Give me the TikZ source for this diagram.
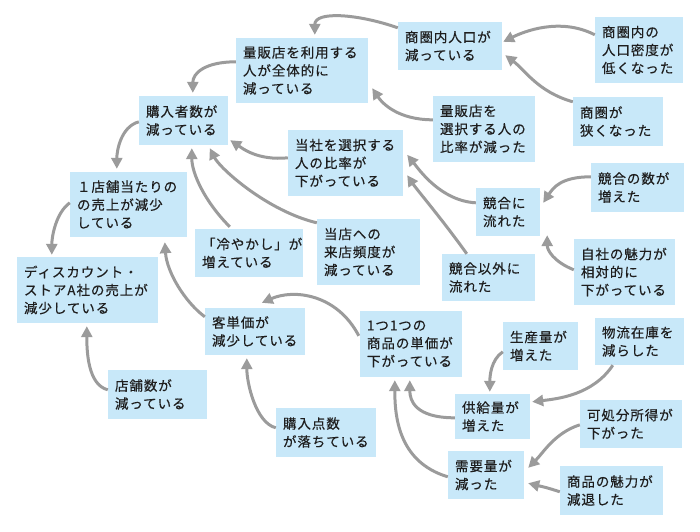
\documentclass[tikz,border=0pt]{standalone}
\usepackage{fontspec}
\newfontfamily\jp{Noto Sans CJK JP}[LetterSpace=7,FakeBold=0.35]
\usetikzlibrary{arrows.meta,calc}
\definecolor{boxfill}{HTML}{C8E8F9}
\definecolor{arrgray}{HTML}{9B9B9B}
\definecolor{txt}{HTML}{1E1E1E}
\tikzset{
 box/.style={fill=boxfill, inner xsep=7pt, inner ysep=0pt, align=left, text=txt,
   font=\jp\fontsize{13.5}{18}\selectfont},
 arr/.style={draw=arrgray, line width=3pt, -{Triangle[length=11pt,width=11pt]}}
}
\begin{document}
\begin{tikzpicture}[x=1pt,y=-1pt]
\path[use as bounding box] (0,0) rectangle (700,531);
% nodes
\node[box,minimum width=104pt,minimum height=48pt,text width=90pt] (pop) at (450,46) {商圏内人口が\\減っている};
\node[box,minimum width=88pt,minimum height=66pt,text width=74pt] (dens) at (639,50) {商圏内の\\人口密度が\\低くなった};
\node[box,minimum width=90pt,minimum height=49pt,text width=76pt] (narrow) at (618,121.5) {商圏が\\狭くなった};
\node[box,minimum width=102pt,minimum height=66pt,text width=88pt] (rsel) at (484,129) {量販店を\\選択する人の\\比率が減った};
\node[box,minimum width=132pt,minimum height=65pt,text width=118pt] (ruse) at (302,70.5) {量販店を利用する\\人が全体的に\\減っている};
\node[box,minimum width=89pt,minimum height=49pt,text width=75pt] (buyers) at (183.5,120.5) {購入者数が\\減っている};
\node[box,minimum width=115pt,minimum height=66pt,text width=101pt] (share) at (345.5,163) {当社を選択する\\人の比率が\\下がっている};
\node[box,minimum width=117pt,minimum height=65pt,text width=103pt] (perstore) at (128.5,204.5) {１店舗当たりの\\の売上が減少\\している};
\node[box,minimum width=141pt,minimum height=66pt,text width=127pt] (sales) at (87.5,290) {ディスカウント・\\ストアA社の売上が\\減少している};
\node[box,minimum width=108pt,minimum height=48pt,text width=94pt] (hiya) at (249,253) {「冷やかし」が\\増えている};
\node[box,minimum width=103pt,minimum height=66pt,text width=89pt] (freq) at (368.5,252) {当店への\\来店頻度が\\減っている};
\node[box,minimum width=64pt,minimum height=48pt,text width=50pt] (comp) at (508,212) {競合に\\流れた};
\node[box,minimum width=93pt,minimum height=49pt,text width=79pt] (compnum) at (637.5,187.5) {競合の数が\\増えた};
\node[box,minimum width=101pt,minimum height=66pt,text width=87pt] (attract) at (624.5,272) {自社の魅力が\\相対的に\\下がっている};
\node[box,minimum width=93pt,minimum height=47pt,text width=79pt] (other) at (488.5,277.5) {競合以外に\\流れた};
\node[box,minimum width=100pt,minimum height=47pt,text width=86pt] (unit) at (255,331.5) {客単価が\\減少している};
\node[box,minimum width=102pt,minimum height=66pt,text width=88pt] (item) at (411,344) {1つ1つの\\商品の単価が\\下がっている};
\node[box,minimum width=75pt,minimum height=48pt,text width=61pt] (prod) at (540.5,346) {生産量が\\増えた};
\node[box,minimum width=89pt,minimum height=47pt,text width=75pt] (logi) at (639.5,341.5) {物流在庫を\\減らした};
\node[box,minimum width=75pt,minimum height=45pt,text width=61pt] (supply) at (492.5,416.5) {供給量が\\増えた};
\node[box,minimum width=102pt,minimum height=48pt,text width=88pt] (income) at (631,424) {可処分所得が\\下がった};
\node[box,minimum width=76pt,minimum height=48pt,text width=62pt] (demand) at (486,475) {需要量が\\減った};
\node[box,minimum width=103pt,minimum height=49pt,text width=89pt] (charm) at (611.5,490.5) {商品の魅力が\\減退した};
\node[box,minimum width=99pt,minimum height=49pt,text width=85pt] (stores) at (157.5,394.5) {店舗数が\\減っている};
\node[box,minimum width=100pt,minimum height=49pt,text width=86pt] (points) at (326,432.5) {購入点数\\が落ちている};
% arrows
\draw[arr] ($(pop.north west)+(0,6)$) .. controls +(-40,-14) and +(0,-24) .. ($(ruse.north west)+(79,-3)$);
\draw[arr] ($(ruse.north west)+(0,24)$) .. controls +(-30,0) and +(0,-20) .. ($(buyers.north west)+(54,-3)$);
\draw[arr] ($(buyers.north west)+(0,26)$) .. controls +(-18,5) and +(0,-18) .. ($(perstore.north west)+(47,-3)$);
\draw[arr] ($(perstore.north west)+(0,31)$) .. controls +(-14,10) and +(0,-18) .. ($(sales.north west)+(35,-2)$);
\draw[arr] ($(stores.north west)+(0,20)$) .. controls +(-20,-5) and +(0,25) .. ($(sales.south west)+(70,3)$);
\draw[arr] ($(unit.north west)+(0,9)$) .. controls +(-20,-15) and +(2,30) .. ($(perstore.south west)+(95,5)$);
\draw[arr] ($(points.north west)+(0,20)$) .. controls +(-20,-5) and +(0,25) .. ($(unit.south west)+(42,3)$);
\draw[arr] ($(item.north west)+(-1,25)$) .. controls +(-22,-42) and +(32,-14) .. ($(unit.north west)+(57,-5)$);
\draw[arr] ($(hiya.north west)+(35,-2)$) .. controls +(-25,-25) and +(0,25) .. ($(buyers.south west)+(53,3)$);
\draw[arr] ($(freq.north west)+(0,4)$) .. controls +(-50,-12) and +(10,20) .. ($(buyers.south west)+(71,3)$);
\draw[arr] ($(share.north west)+(0,28)$) .. controls +(-30,3) and +(12,8) .. ($(buyers.south east)+(2,-5)$);
\draw[arr] ($(rsel.north west)+(0,24)$) .. controls +(-35,0) and +(10,15) .. ($(ruse.south east)+(4,-15)$);
\draw[arr] ($(dens.north west)+(0,18)$) .. controls +(-35,-18) and +(20,-10) .. ($(pop.north east)+(1,20)$);
\draw[arr] ($(narrow.north west)+(0,5)$) .. controls +(-35,-10) and +(20,15) .. ($(pop.south east)+(3,-15)$);
\draw[arr] ($(comp.north west)+(0,15)$) .. controls +(-35,-2) and +(12,15) .. ($(share.north east)+(4,25)$);
\draw[arr] ($(other.north west)+(25,0)$) .. controls +(-25,-35) and +(10,15) .. ($(share.south east)+(4,-21)$);
\draw[arr] ($(compnum.north west)+(0,14)$) .. controls +(-30,0) and +(10,-15) .. ($(comp.north east)+(3,15)$);
\draw[arr] ($(attract.north west)+(0,31)$) .. controls +(-20,-8) and +(0,15) .. ($(comp.south east)+(7,-1)$);
\draw[arr] ($(prod.north west)+(0,30)$) .. controls +(-12,8) and +(0,-15) .. ($(supply.north west)+(35,-2)$);
\draw[arr] ($(logi.south west)+(18,0)$) .. controls +(-20,30) and +(25,-3) .. ($(supply.north east)+(2,8)$);
\draw[arr] ($(supply.north west)+(0,24)$) .. controls +(-40,0) and +(0,20) .. ($(item.south west)+(50,3)$);
\draw[arr] ($(demand.north west)+(0,26)$) .. controls +(-50,-15) and +(0,35) .. ($(item.south west)+(35,3)$);
\draw[arr] ($(income.north west)+(0,25)$) .. controls +(-25,8) and +(15,-15) .. ($(demand.north east)+(4,17)$);
\draw[arr] ($(charm.north west)+(0,26)$) .. controls +(-15,-5) and +(12,3) .. ($(demand.south east)+(4,-16)$);
\end{tikzpicture}
\end{document}
